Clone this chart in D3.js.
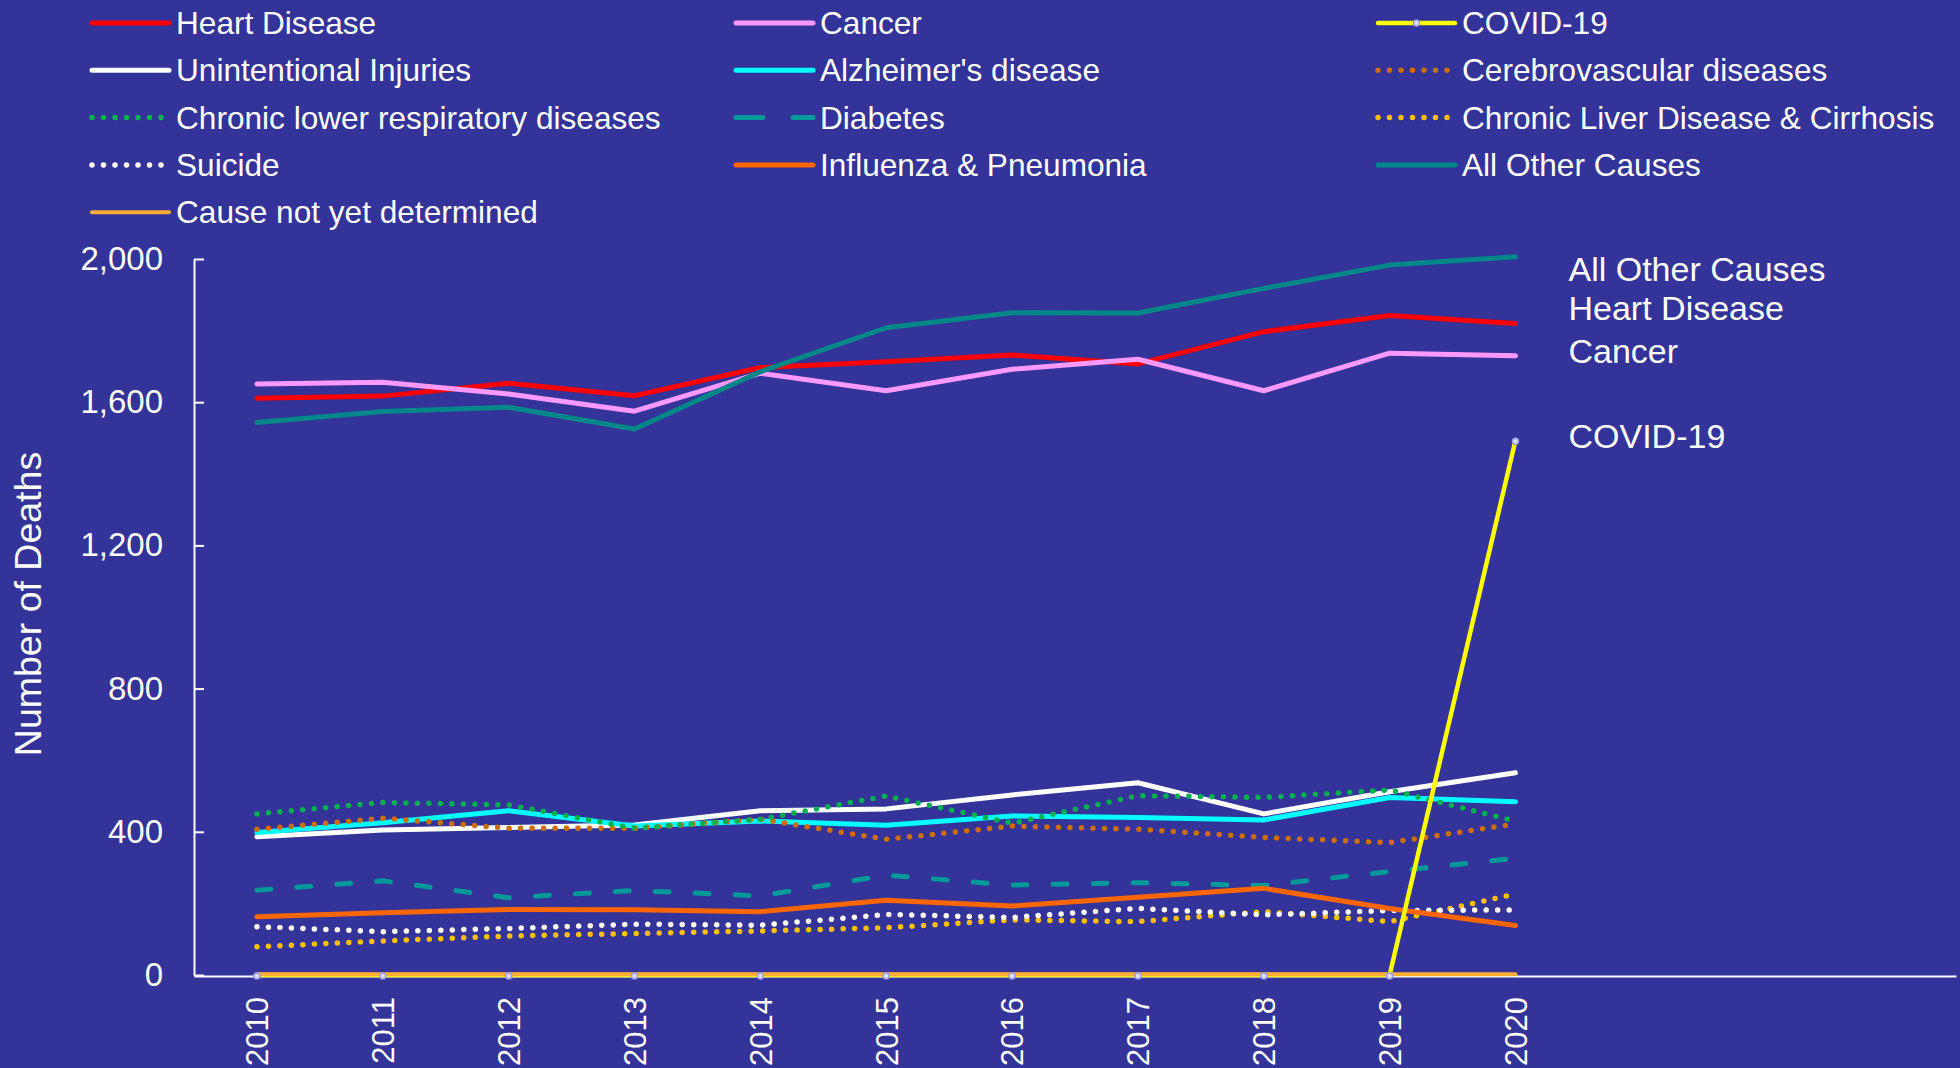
<!DOCTYPE html>
<head>
    <title>Deaths by cause</title>
    <script src="https://cdnjs.cloudflare.com/ajax/libs/d3/7.1.1/d3.min.js"></script>
    <style>
        body { margin: 0; background: #333399; }
        text { font-family: "Liberation Sans", Arial, sans-serif; fill: #ffffff; }
    </style>
</head>
<body>
    <div id="line-chart"></div>
    <script type="text/javascript">
        // data
        const years = [2010, 2011, 2012, 2013, 2014, 2015, 2016, 2017, 2018, 2019, 2020];
        const yTicks = [0, 400, 800, 1200, 1600, 2000];

        const heartDisease = [1611, 1617, 1653, 1618, 1697, 1713, 1732, 1707, 1797, 1842, 1820];
        const cancer = [1651, 1656, 1623, 1575, 1681, 1632, 1692, 1720, 1632, 1737, 1730];
        const covid19 = [0, 0, 0, 0, 0, 0, 0, 0, 0, 0, 1494];
        const unintentionalInjuries = [386, 405, 412, 419, 459, 464, 503, 537, 450, 512, 565];
        const alzheimers = [398, 425, 459, 416, 430, 418, 444, 440, 433, 496, 484];
        const cerebrovascular = [407, 438, 410, 410, 435, 379, 416, 407, 384, 370, 422];
        const chronicLowerResp = [450, 482, 475, 410, 435, 500, 424, 501, 496, 517, 430];
        const diabetes = [237, 263, 216, 236, 221, 279, 251, 258, 250, 289, 326];
        const chronicLiver = [79, 95, 109, 116, 123, 132, 154, 149, 177, 149, 226];
        const suicide = [135, 121, 130, 142, 139, 169, 161, 186, 168, 180, 182];
        const influenza = [163, 174, 183, 182, 177, 209, 193, 217, 242, 186, 138];
        const allOtherCauses = [1543, 1574, 1586, 1525, 1685, 1808, 1850, 1849, 1918, 1983, 2006];
        const notDetermined = [2, 2, 2, 2, 2, 2, 2, 2, 2, 2, 2];

        // series in legend order
        const series = [
            {name: "Heart Disease", values: heartDisease, color: "#ff0000", width: 5, dash: null},
            {name: "Cancer", values: cancer, color: "#ff99ff", width: 5, dash: null},
            {name: "COVID-19", values: covid19, color: "#ffff00", width: 4.5, dash: null, marker: true},
            {name: "Unintentional Injuries", values: unintentionalInjuries, color: "#ffffff", width: 5, dash: null},
            {name: "Alzheimer's disease", values: alzheimers, color: "#00ffff", width: 5, dash: null},
            {name: "Cerebrovascular diseases", values: cerebrovascular, color: "#cc6e0a", width: 5.5, dash: "0 11.5"},
            {name: "Chronic lower respiratory diseases", values: chronicLowerResp, color: "#00b050", width: 5.5, dash: "0 11.5"},
            {name: "Diabetes", values: diabetes, color: "#009999", width: 5, dash: "14 26", legendDash: "27 30"},
            {name: "Chronic Liver Disease & Cirrhosis", values: chronicLiver, color: "#ffc000", width: 5.5, dash: "0 11.5"},
            {name: "Suicide", values: suicide, color: "#ffffff", width: 5.5, dash: "0 11.5"},
            {name: "Influenza & Pneumonia", values: influenza, color: "#ff6600", width: 5, dash: null},
            {name: "All Other Causes", values: allOtherCauses, color: "#008888", width: 5, dash: null},
            {name: "Cause not yet determined", values: notDetermined, color: "#ffad33", width: 4, dash: null}
        ];

        // end labels on the right, with small nudges so they don't overlap
        const endLabels = [
            {name: "All Other Causes", values: allOtherCauses, nudge: 12},
            {name: "Heart Disease", values: heartDisease, nudge: -15},
            {name: "Cancer", values: cancer, nudge: -5},
            {name: "COVID-19", values: covid19, nudge: -4}
        ];

        const width = 1960;
        const height = 1068;
        const marginLeft = 194;
        const marginRight = 4;
        const marginTop = 259;
        const marginBottom = 93;

        const svg = d3.select("#line-chart")
            .append("svg")
            .attr("width", width)
            .attr("height", height);

        const xScale = d3.scaleLinear()
            .domain([2009.5, 2023.5])
            .range([marginLeft, width - marginRight]);

        const yScale = d3.scaleLinear()
            .domain([0, 2000])
            .range([height - marginBottom, marginTop]);

        // Y Axis
        const yAxis = d3.axisLeft(yScale)
            .tickValues(yTicks)
            .tickFormat(d3.format(","))
            .tickSize(-10)
            .tickSizeOuter(0)
            .tickPadding(31);

        const gy = svg.append("g")
            .attr("class", "axis y")
            .attr("transform", "translate(" + marginLeft + ",0)")
            .call(yAxis);
        gy.selectAll("path, line").attr("stroke", "#ffffff").attr("stroke-width", 2);
        gy.selectAll("text").attr("fill", "#ffffff").style("font-size", "33px")
            .style("font-family", "'Liberation Sans', Arial, sans-serif");

        svg.append("text")
            .attr("transform", "translate(41," + (yScale(1000) - 13) + ") rotate(-90)")
            .attr("text-anchor", "middle")
            .style("font-size", "37.5px")
            .text("Number of Deaths");

        // X Axis
        const xAxis = d3.axisBottom(xScale)
            .tickValues(years)
            .tickFormat(d3.format("d"))
            .tickSize(0)
            .tickSizeOuter(0)
            .tickPadding(0);

        const gx = svg.append("g")
            .attr("class", "axis x")
            .attr("transform", "translate(0," + (yScale(0) + 1) + ")")
            .call(xAxis);
        gx.select("path").attr("stroke", "#ffffff").attr("stroke-width", 2);
        gx.selectAll("text")
            .attr("fill", "#ffffff")
            .style("font-size", "31px")
            .style("font-family", "'Liberation Sans', Arial, sans-serif")
            .attr("text-anchor", "end")
            .attr("y", 0)
            .attr("dy", "0.35em")
            .attr("transform", "translate(0,21) rotate(-90)");

        // Lines
        const line = d3.line()
            .x((d, i) => xScale(years[i]))
            .y(d => yScale(d));

        // COVID-19 is drawn above the others, only "not yet determined" covers it
        const drawOrder = series.filter(s => s.name !== "COVID-19" && s.name !== "Cause not yet determined")
            .concat(series.filter(s => s.name === "COVID-19"))
            .concat(series.filter(s => s.name === "Cause not yet determined"));

        svg.append("g")
            .attr("class", "lines")
            .selectAll("path")
            .data(drawOrder)
            .enter()
            .append("path")
            .attr("d", d => line(d.values))
            .attr("fill", "none")
            .attr("stroke", d => d.color)
            .attr("stroke-width", d => d.width)
            .attr("stroke-dasharray", d => d.dash)
            .attr("stroke-linecap", "round")
            .attr("stroke-linejoin", "round");

        // COVID-19 markers
        svg.append("g")
            .attr("class", "markers")
            .selectAll("circle")
            .data(covid19)
            .enter()
            .append("circle")
            .attr("cx", (d, i) => xScale(years[i]))
            .attr("cy", d => yScale(d) + 1)
            .attr("r", 3)
            .attr("fill", "#ddddff")
            .attr("stroke", "#9999ee")
            .attr("stroke-width", 1.5);

        // End labels
        svg.append("g")
            .attr("class", "end-labels")
            .selectAll("text")
            .data(endLabels)
            .enter()
            .append("text")
            .attr("x", xScale(2020) + 53)
            .attr("y", d => yScale(d.values[d.values.length - 1]) + d.nudge)
            .attr("dy", "0.35em")
            .style("font-size", "34px")
            .text(d => d.name);

        // Legend
        const colX = [92, 736, 1378];
        const rowY0 = 23;
        const rowStep = 47.3;
        const swatch = 77;

        const legend = svg.append("g")
            .attr("class", "legend")
            .selectAll("g")
            .data(series)
            .enter()
            .append("g")
            .attr("transform", (d, i) => "translate(" + colX[i % 3] + "," + (rowY0 + Math.floor(i / 3) * rowStep) + ")");

        legend.append("line")
            .attr("x1", 0)
            .attr("x2", d => d.dash && d.dash.startsWith("0") ? swatch - 5 : swatch)
            .attr("y1", 0)
            .attr("y2", 0)
            .attr("stroke", d => d.color)
            .attr("stroke-width", d => d.width)
            .attr("stroke-dasharray", d => d.legendDash || d.dash)
            .attr("stroke-linecap", "round");

        legend.filter(d => d.marker)
            .append("circle")
            .attr("cx", swatch / 2)
            .attr("cy", 0)
            .attr("r", 3)
            .attr("fill", "#ddddff")
            .attr("stroke", "#9999ee")
            .attr("stroke-width", 1.5);

        legend.append("text")
            .attr("x", 84)
            .attr("y", 0)
            .attr("dy", "0.35em")
            .style("font-size", "31.6px")
            .text(d => d.name);
    </script>
</body>
